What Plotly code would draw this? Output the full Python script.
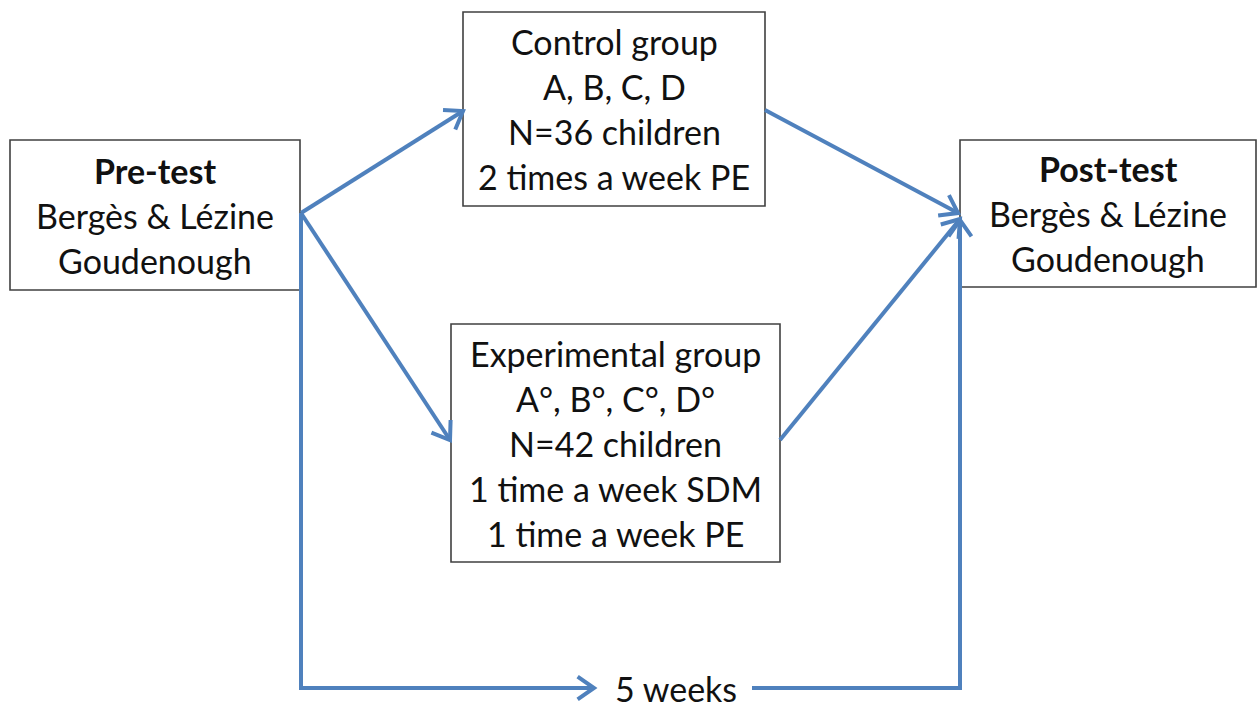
import math
import plotly.graph_objects as go

# Boxes: name, left, top, right, bottom (pixel space)
box_names = ['pre', 'control', 'experimental', 'post']
box_left = [10, 463, 451, 960]
box_top = [140, 12, 324, 140]
box_right = [300, 765, 780, 1256]
box_bottom = [290, 206, 562, 287]

# Text lines inside each box
box_lines = {
    'pre': ['<b>Pre-test</b>', 'Bergès & Lézine', 'Goudenough'],
    'control': ['Control group', 'A, B, C, D', 'N=36 children', '2 times a week PE'],
    'experimental': ['Experimental group', 'A°, B°, C°, D°', 'N=42 children',
                     '1 time a week SDM', '1 time a week PE'],
    'post': ['<b>Post-test</b>', 'Bergès & Lézine', 'Goudenough'],
}
line_gap = 45

# Connectors: list of points, last point gets an arrowhead if flagged
paths = [
    ([(301, 213), (463, 111)], True),
    ([(301, 213), (450, 440)], True),
    ([(765, 110), (958, 213)], True),
    ([(780, 440), (960, 219)], True),
    ([(301, 213), (301, 688), (594, 688)], True),
    ([(752, 688), (960, 688), (960, 220)], True),
]
weeks_label = '5 weeks'
weeks_pos = (676, 688)

blue = '#4F81BD'
font = dict(family='Lato, Noto Sans, sans-serif', size=34, color='#111111')

fig = go.Figure()
shapes = []
annotations = []

for i, name in enumerate(box_names):
    shapes.append(dict(type='rect', x0=box_left[i], x1=box_right[i],
                       y0=box_top[i], y1=box_bottom[i],
                       line=dict(color='#404040', width=1.6), fillcolor='white'))
    lines = box_lines[name]
    cx = (box_left[i] + box_right[i]) / 2
    cy = (box_top[i] + box_bottom[i]) / 2
    start = cy - line_gap * (len(lines) - 1) / 2
    for k, t in enumerate(lines):
        annotations.append(dict(x=cx, y=start + k * line_gap, text=t, showarrow=False,
                                xanchor='center', yanchor='middle', font=font))

def chevron(p0, p1, L=20, ang=35):
    dx, dy = p1[0] - p0[0], p1[1] - p0[1]
    n = math.hypot(dx, dy)
    ux, uy = dx / n, dy / n
    pts = []
    for s in (1, -1):
        a = math.radians(ang) * s
        rx = ux * math.cos(a) - uy * math.sin(a)
        ry = ux * math.sin(a) + uy * math.cos(a)
        pts.append((p1[0] - L * rx, p1[1] - L * ry))
    return 'M {},{} L {},{} L {},{}'.format(pts[0][0], pts[0][1], p1[0], p1[1],
                                            pts[1][0], pts[1][1])

for pts, head in paths:
    d = 'M ' + ' L '.join('{},{}'.format(x, y) for x, y in pts)
    shapes.append(dict(type='path', path=d, line=dict(color=blue, width=4)))
    if head:
        shapes.append(dict(type='path', path=chevron(pts[-2], pts[-1]),
                           line=dict(color=blue, width=4)))

annotations.append(dict(x=weeks_pos[0], y=weeks_pos[1], text=weeks_label, showarrow=False,
                        xanchor='center', yanchor='middle', font=font))

fig.update_layout(
    width=1258, height=702,
    margin=dict(l=0, r=0, t=0, b=0),
    plot_bgcolor='white', paper_bgcolor='white',
    shapes=shapes, annotations=annotations,
    xaxis=dict(range=[0, 1258], visible=False, fixedrange=True),
    yaxis=dict(range=[702, 0], visible=False, fixedrange=True),
    showlegend=False,
)

# page body has a default 8px margin; drop it so the figure fills the window
fig.write_html('out.html', post_script="document.body.style.margin='0';",
               config={'displayModeBar': False})
